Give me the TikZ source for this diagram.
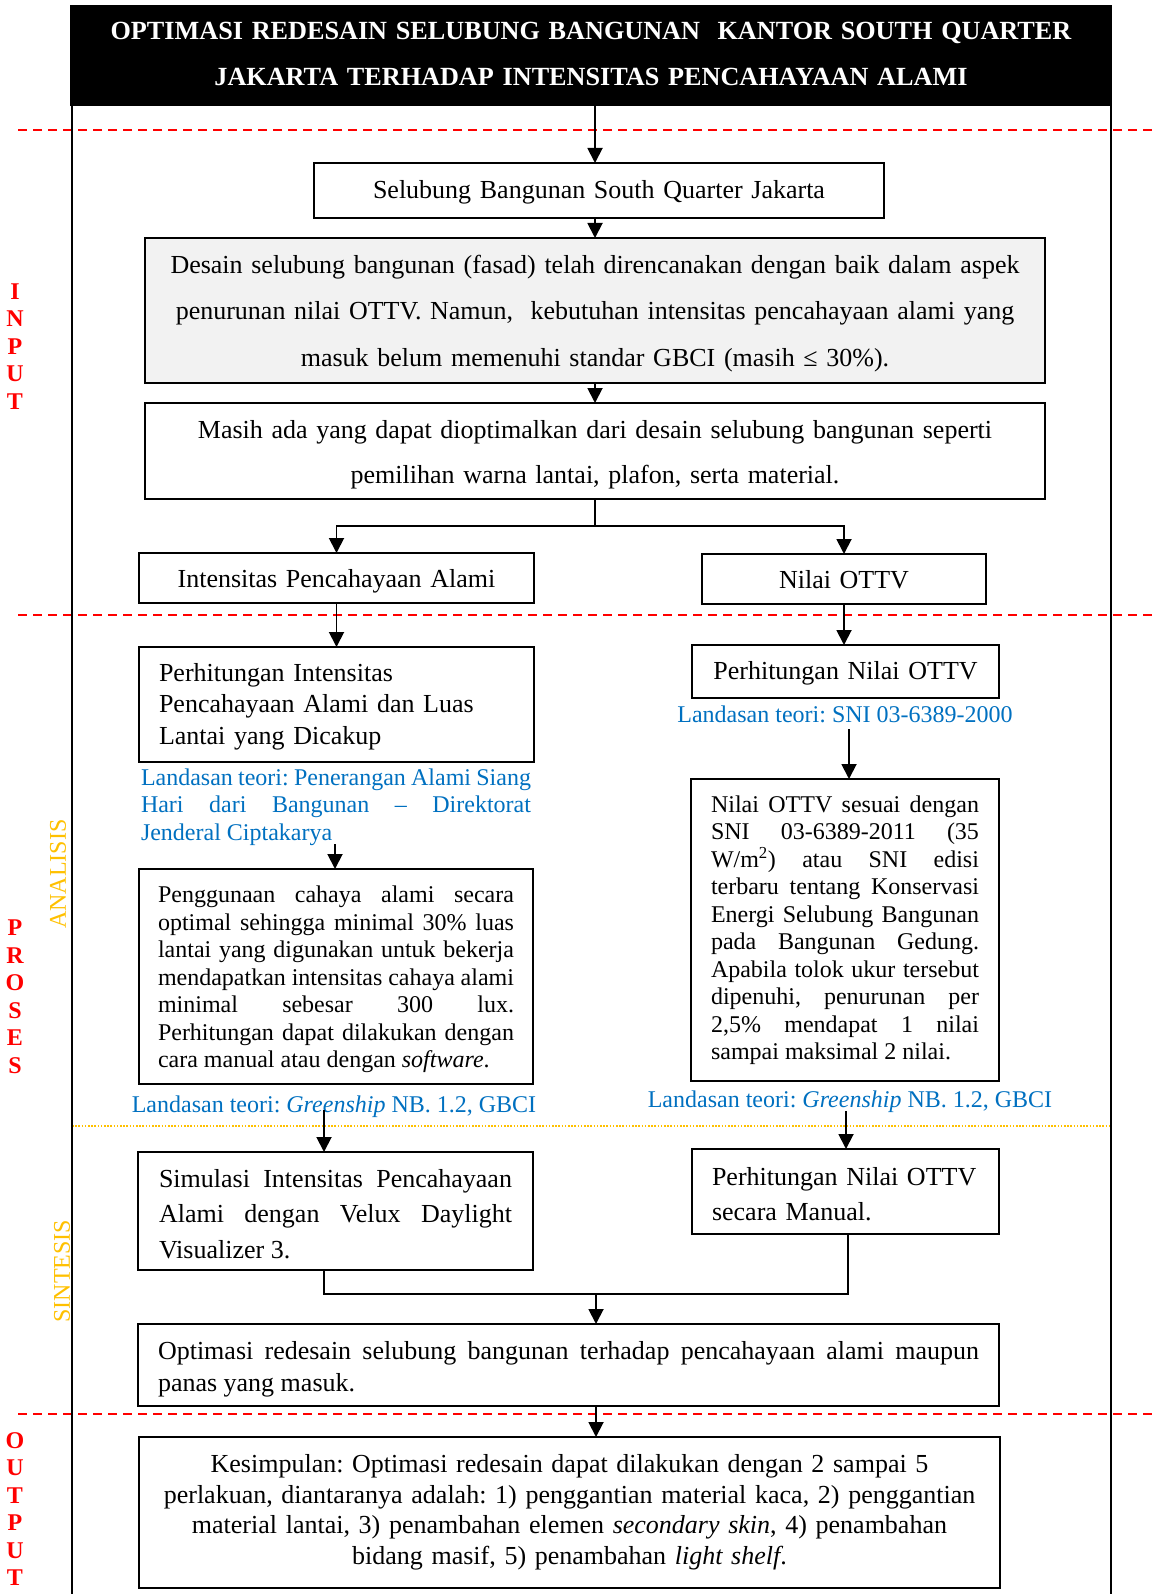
\documentclass[tikz,border=0pt]{standalone}
\usepackage{fontspec}
\setmainfont{Liberation Serif}
\usetikzlibrary{arrows.meta,calc}
\definecolor{tblue}{HTML}{0070C0}
\definecolor{torange}{HTML}{FFC000}
\definecolor{tred}{HTML}{FF0000}
\definecolor{tgray}{HTML}{F2F2F2}
\newcommand\mypar{\par}
\frenchspacing
\begin{document}
\begin{tikzpicture}[x=1pt,y=-1pt,
  box/.style={draw=black, line width=1.9pt, inner sep=0pt, outer sep=0pt},
  down/.style={execute at end node={\mypar\kern-#1}},
  arr/.style={line width=1.9pt, -{Triangle[length=15pt,width=15pt]}},
  conn/.style={line width=1.9pt},
  frame/.style={line width=2pt},
  redline/.style={draw=tred, line width=1.8pt, dash pattern=on 9pt off 6pt},
  orline/.style={draw=torange, line width=1.6pt, dash pattern=on 1.6pt off 1.6pt},
  big/.style={font={\fontsize{26}{31.5}\selectfont}},
  small/.style={font={\fontsize{24}{27.5}\selectfont}},
  bluelab/.style={text=tblue, inner sep=0pt, font={\fontsize{24}{27.5}\selectfont}},
  sidelab/.style={text=tred, inner sep=0pt, align=center, font={\bfseries\fontsize{24}{27.5}\selectfont}},
  phase/.style={text=torange, inner sep=0pt, rotate=90, font={\fontsize{24}{27.5}\selectfont}}
]
\useasboundingbox (0,0) rectangle (1152,1594);

% section separators
\draw[redline] (18,130) -- (1152,130);
\draw[redline] (18,615) -- (1152,615);
\draw[redline] (18,1414) -- (1152,1414);
\draw[orline] (72,1126) -- (1111,1126);

% title
\node[fill=black, inner sep=0pt, minimum width=1042pt, minimum height=101pt,
      text=white, text width=1030pt, align=center, execute at end node={\mypar\kern4pt},
      font={\bfseries\fontsize{26.2}{46}\selectfont}] (t) at (591,55.5)
  {OPTIMASI REDESAIN SELUBUNG BANGUNAN\ \ KANTOR SOUTH QUARTER\\JAKARTA TERHADAP INTENSITAS PENCAHAYAAN ALAMI};

% frame
\draw[frame] (72,106) -- (72,1594);
\draw[frame] (1111,106) -- (1111,1594);

% side labels
\node[sidelab] (inp) at (15,346.5) {I\\N\\P\\U\\T};
\node[sidelab] (pro) at (15,996.5) {P\\R\\O\\S\\E\\S};
\node[sidelab] (out) at (15,1509) {O\\U\\T\\P\\U\\T};
\node[phase] (ana) at (58,874) {ANALISIS};
\node[phase] (sin) at (62,1271) {SINTESIS};

% boxes
\node[box, big, minimum width=570pt, minimum height=55pt, text width=550pt, align=center, down=4pt] (b1) at (599,190.5)
  {Selubung Bangunan South Quarter Jakarta};
\node[box, fill=tgray, minimum width=900pt, minimum height=145pt, text width=880pt, align=center, down=6pt,
      font={\fontsize{26}{46.5}\selectfont}] (b2) at (595,310.5)
  {Desain selubung bangunan (fasad) telah direncanakan dengan baik dalam aspek\\
   penurunan nilai OTTV. Namun,\ \ kebutuhan intensitas pencahayaan alami yang\\
   masuk belum memenuhi standar GBCI (masih ≤ 30\%).};
\node[box, minimum width=900pt, minimum height=96pt, text width=880pt, align=center, down=8pt,
      font={\fontsize{26}{45}\selectfont}] (b3) at (595,451)
  {Masih ada yang dapat dioptimalkan dari desain selubung bangunan seperti\\
   pemilihan warna lantai, plafon, serta material.};
\node[box, big, minimum width=395pt, minimum height=50pt, text width=375pt, align=center, down=8pt] (b4) at (336.5,578)
  {Intensitas Pencahayaan Alami};
\node[box, big, minimum width=284pt, minimum height=50pt, text width=264pt, align=center, down=5pt] (b5) at (844,579)
  {Nilai OTTV};

\node[box, big, minimum width=395pt, minimum height=115pt, text width=355pt, align=left, down=4pt] (b6) at (336.5,704.5)
  {Perhitungan Intensitas\\Pencahayaan Alami dan Luas\\Lantai yang Dicakup};
\node[bluelab, text width=390pt, align=justify] (l6) at (336,807)
  {Landasan teori: Penerangan Alami Siang\linebreak Hari dari Bangunan – Direktorat\linebreak Jenderal Ciptakarya};
\node[box, small, minimum width=394pt, minimum height=215pt, text width=356pt, align=justify, down=6pt] (b8) at (336,976.5)
  {Penggunaan cahaya alami secara\linebreak optimal sehingga minimal 30\% luas\linebreak
   lantai yang digunakan untuk bekerja\linebreak mendapatkan intensitas cahaya alami\linebreak
   minimal sebesar 300 lux.\linebreak Perhitungan dapat dilakukan dengan\linebreak
   cara manual atau dengan \textit{software}.};
\node[bluelab] (l8) at (334,1107) {Landasan teori: \textit{Greenship} NB. 1.2, GBCI};

\node[box, big, minimum width=307pt, minimum height=53pt, text width=287pt, align=center, down=4pt] (b7) at (845.5,671.5)
  {Perhitungan Nilai OTTV};
\node[bluelab] (l7) at (845,714) {Landasan teori: SNI 03-6389-2000};
\node[box, small, minimum width=308pt, minimum height=302pt, text width=268pt, align=justify] (b9) at (845,930)
  {Nilai OTTV sesuai dengan\linebreak SNI 03-6389-2011 (35\linebreak W/m\textsuperscript{2}) atau SNI edisi\linebreak
   terbaru tentang Konservasi\linebreak Energi Selubung Bangunan\linebreak pada Bangunan Gedung.\linebreak
   Apabila tolok ukur tersebut\linebreak dipenuhi, penurunan per\linebreak 2,5\% mendapat 1 nilai\linebreak
   sampai maksimal 2 nilai.};
\node[bluelab] (l9) at (850,1102) {Landasan teori: \textit{Greenship} NB. 1.2, GBCI};

\node[box, minimum width=395pt, minimum height=118pt, text width=353pt, align=justify, down=6pt,
      font={\fontsize{26}{35.5}\selectfont}] (b10) at (335.5,1211)
  {Simulasi Intensitas Pencahayaan\linebreak Alami dengan Velux Daylight\linebreak Visualizer 3.};
\node[box, minimum width=307pt, minimum height=85pt, text width=267pt, align=left, down=6pt,
      font={\fontsize{26}{35}\selectfont}] (b11) at (845.5,1191.5)
  {\mbox{Perhitungan Nilai OTTV}\\secara Manual.};
\node[box, minimum width=861pt, minimum height=82pt, text width=821pt, align=justify, down=8pt,
      font={\fontsize{26}{32}\selectfont}] (b12) at (568.5,1365)
  {Optimasi redesain selubung bangunan terhadap pencahayaan alami maupun\linebreak panas yang masuk.};
\node[box, minimum width=861pt, minimum height=151pt, text width=841pt, align=center,
      font={\fontsize{26}{30.5}\selectfont}] (b13) at (569.5,1512.5)
  {Kesimpulan: Optimasi redesain dapat dilakukan dengan 2 sampai 5\\
   perlakuan, diantaranya adalah: 1) penggantian material kaca, 2) penggantian\\
   material lantai, 3) penambahan elemen \textit{secondary skin}, 4) penambahan\\
   bidang masif, 5) penambahan \textit{light shelf}.};

% connectors
\coordinate (split) at (595,526);
\coordinate (c6) at (335,844);
\coordinate (c7) at (849,729);
\coordinate (c8) at (324,1110);
\coordinate (c9) at (846,1111);
\coordinate (j1) at (324,1294);
\coordinate (j2) at (848,1294);
\coordinate (jm) at (596,1294);

\draw[arr] (t.south -| b2.north) -- (b1.north -| b2.north);
\draw[arr] (b1.south -| b2.north) -- (b2.north);
\draw[arr] (b2.south) -- (b3.north);
\draw[conn] (b3.south) -- (split);
\draw[arr] (split) -| (b4.north);
\draw[arr] (split) -| (b5.north);
\draw[arr] (b4.south) -- (b6.north);
\draw[arr] (b5.south) -- (b5.south |- b7.north);
\draw[arr] (c6) -- (c6 |- b8.north);
\draw[arr] (c7) -- (c7 |- b9.north);
\draw[arr] (c8) -- (c8 |- b10.north);
\draw[arr] (c9) -- (c9 |- b11.north);
\draw[conn] (b10.south -| j1) -- (j1) -- (j2) -- (b11.south -| j2);
\draw[arr] (jm) -- (jm |- b12.north);
\draw[arr] (b12.south -| jm) -- (b13.north -| jm);
\end{tikzpicture}
\end{document}
